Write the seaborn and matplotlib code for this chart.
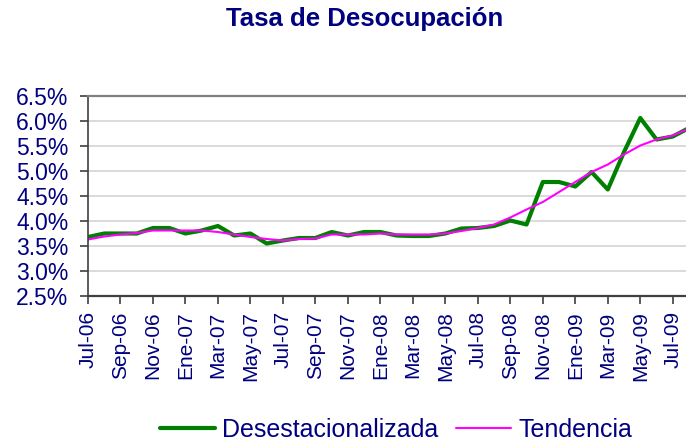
import matplotlib
matplotlib.use('Agg')
import matplotlib.pyplot as plt
import seaborn as sns
import pandas as pd

# Monthly series Jul-06 .. Aug-09 (percent)
meses = ['Jul-06', 'Ago-06', 'Sep-06', 'Oct-06', 'Nov-06', 'Dic-06',
         'Ene-07', 'Feb-07', 'Mar-07', 'Abr-07', 'May-07', 'Jun-07',
         'Jul-07', 'Ago-07', 'Sep-07', 'Oct-07', 'Nov-07', 'Dic-07',
         'Ene-08', 'Feb-08', 'Mar-08', 'Abr-08', 'May-08', 'Jun-08',
         'Jul-08', 'Ago-08', 'Sep-08', 'Oct-08', 'Nov-08', 'Dic-08',
         'Ene-09', 'Feb-09', 'Mar-09', 'Abr-09', 'May-09', 'Jun-09',
         'Jul-09', 'Ago-09']
desestacionalizada = [3.68, 3.75, 3.75, 3.75, 3.86, 3.86, 3.75, 3.81, 3.90, 3.71,
                      3.75, 3.55, 3.61, 3.66, 3.66, 3.78, 3.71, 3.78, 3.78, 3.71,
                      3.70, 3.70, 3.75, 3.85, 3.86, 3.90, 4.01, 3.93, 4.78, 4.78,
                      4.69, 4.98, 4.63, 5.38, 6.06, 5.63, 5.69, 5.86]
tendencia = [3.63, 3.69, 3.73, 3.76, 3.81, 3.81, 3.81, 3.81, 3.78, 3.73,
             3.68, 3.64, 3.61, 3.64, 3.65, 3.73, 3.73, 3.73, 3.75, 3.73,
             3.73, 3.73, 3.75, 3.80, 3.86, 3.93, 4.07, 4.23, 4.38, 4.58,
             4.78, 4.98, 5.13, 5.33, 5.51, 5.63, 5.71, 5.85]

data = pd.DataFrame({'idx': range(len(meses)), 'mes': meses,
                     'Desestacionalizada': desestacionalizada,
                     'Tendencia': tendencia})

sns.set_style('white')
plt.rcParams['font.family'] = ['Liberation Sans', 'DejaVu Sans']
navy = '#000080'

fig = plt.figure(figsize=(6.86, 4.45), dpi=100)
ax = fig.add_axes([88 / 686, 1 - 296 / 445, (689 - 88) / 686, 200 / 445])

sns.lineplot(x='idx', y='Desestacionalizada', data=data, color='#008000',
             linewidth=3, label='Desestacionalizada', ax=ax)
sns.lineplot(x='idx', y='Tendencia', data=data, color='#ff00ff',
             linewidth=1.5, label='Tendencia', ax=ax)

ax.set_xlim(0, len(meses) - 1)
ax.set_ylim(2.5, 6.5)
yt = [2.5 + 0.5 * i for i in range(9)]
ax.set_yticks(yt)
ax.set_yticklabels(['{:.1f}%'.format(v) for v in yt], fontsize=16.5, color=navy)
ax.set_xticks(range(0, len(meses), 2))
ax.set_xticklabels(meses[::2], rotation=90, fontsize=15, color=navy)
ax.set_xlabel('')
ax.set_ylabel('')

ax.yaxis.grid(True, color='#d4d4d4', linewidth=1.2)
ax.xaxis.grid(False)
ax.tick_params(axis='y', left=True, length=6, width=1.2, color='#404040', pad=8)
ax.tick_params(axis='x', bottom=True, length=6, width=1.2, color='#404040', pad=5)
ax.spines['top'].set_color('#808080')
ax.spines['top'].set_linewidth(1.6)
ax.spines['right'].set_visible(False)
ax.spines['left'].set_color('#404040')
ax.spines['left'].set_linewidth(1.2)
ax.spines['bottom'].set_color('#404040')
ax.spines['bottom'].set_linewidth(1.6)

handles, labels = ax.get_legend_handles_labels()
ax.get_legend().remove()
fig.legend(handles, labels, loc='center', bbox_to_anchor=(396 / 686, 1 - 430 / 445),
           ncol=2, frameon=False, fontsize=18, labelcolor=navy,
           handlelength=2.2, handletextpad=0.3, columnspacing=0.7)

fig.text(365 / 686, 1 - 19 / 445, 'Tasa de Desocupación', ha='center', va='center',
         fontsize=18.5, fontweight='bold', color=navy)

fig.savefig('out.png', dpi=100)
